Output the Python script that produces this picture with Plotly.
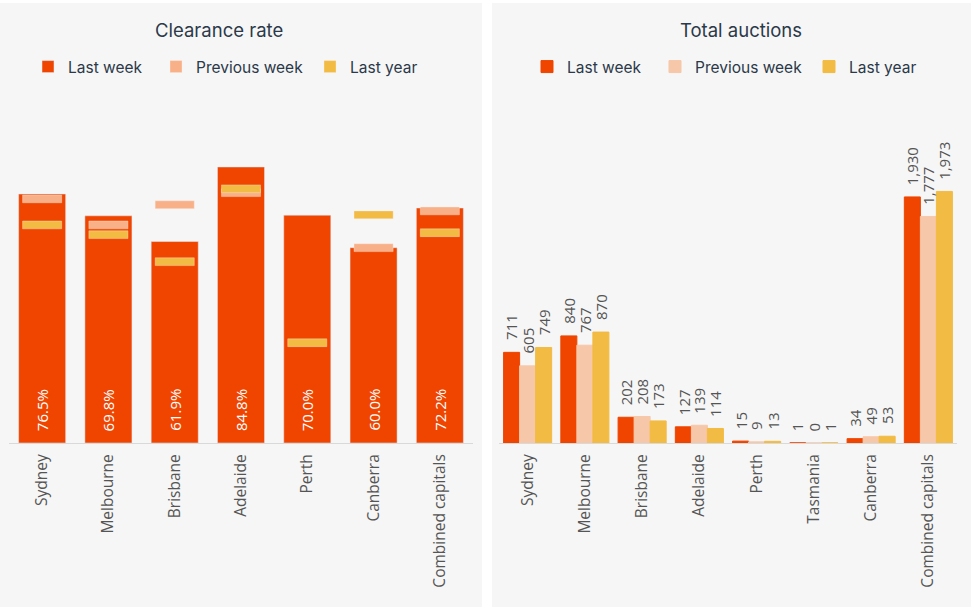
import plotly.graph_objects as go

# ---------------- data ----------------
cr_cities = ["Sydney", "Melbourne", "Brisbane", "Adelaide", "Perth", "Canberra", "Combined capitals"]
cr_last_week = [76.5, 69.8, 61.9, 84.8, 70.0, 60.0, 72.2]
cr_prev_week = [75.0, 67.0, 73.2, 76.9, None, 60.0, 71.3]
cr_last_year = [67.0, 64.0, 55.7, 78.1, 30.8, 70.1, 64.6]

ta_cities = ["Sydney", "Melbourne", "Brisbane", "Adelaide", "Perth", "Tasmania", "Canberra", "Combined capitals"]
ta_last_week = [711, 840, 202, 127, 15, 1, 34, 1930]
ta_prev_week = [605, 767, 208, 139, 9, 0, 49, 1777]
ta_last_year = [749, 870, 173, 114, 13, 1, 53, 1973]

series_names = ["Last week", "Previous week", "Last year"]

# ---------------- style ----------------
W, H = 971, 612
C_LW = "#ef4500"
C_PW = "#f8b088"
C_PW2 = "#f7c7a9"
C_LY = "#f2bb43"
PANEL = "#f6f6f6"
DARK = "#2b3949"
GREY = "#555555"
TFONT = "Inter"
LFONT = "Open Sans"

def px_x(p):
    return p / W

def px_y(p):
    return (H - p) / H

y_dom = [px_y(443), px_y(117.5)]

left_leg_x = [42, 170, 324]
right_leg_x = [541, 669, 823]

fig = go.Figure()

# ---- left: clearance rate ----
fig.add_trace(go.Bar(
    x=cr_cities, y=cr_last_week, name=series_names[0], marker_color=C_LW,
    width=0.71, offset=-0.355, xaxis="x", yaxis="y", legend="legend",
    hoverinfo="x+y"))
mark_h = 2.4
for vals, col, nm, lg in [(cr_prev_week, C_PW, series_names[1], "legend2"),
                          (cr_last_year, C_LY, series_names[2], "legend3")]:
    xs = [c for c, v in zip(cr_cities, vals) if v is not None]
    vs = [v for v in vals if v is not None]
    fig.add_trace(go.Bar(
        x=xs, y=[mark_h] * len(vs), base=[v - mark_h / 2 for v in vs], name=nm,
        marker=dict(color=col, line=dict(color="rgba(255,240,230,0.35)", width=1)),
        width=0.59, offset=-0.295, xaxis="x", yaxis="y", legend=lg,
        customdata=vs, hovertemplate="%{x}: %{customdata}<extra>" + nm + "</extra>"))

annotations = []
for i, v in enumerate(cr_last_week):
    annotations.append(dict(
        x=i, y=0, xref="x", yref="y", text=f"{v:.1f}%", textangle=-90,
        showarrow=False, xanchor="center", yanchor="bottom", yshift=10,
        font=dict(family=LFONT, size=15, color="white")))

# ---- right: total auctions ----
bw = 0.28
offs = [-0.42, -0.14, 0.14]
for vals, col, nm, off, lg in [(ta_last_week, C_LW, series_names[0], offs[0], "legend4"),
                               (ta_prev_week, C_PW2, series_names[1], offs[1], "legend5"),
                               (ta_last_year, C_LY, series_names[2], offs[2], "legend6")]:
    fig.add_trace(go.Bar(
        x=ta_cities, y=vals, name=nm, marker=dict(color=col, line=dict(color=col, width=1)),
        width=bw, offset=off, xaxis="x2", yaxis="y2", legend=lg))
    for i, v in enumerate(vals):
        annotations.append(dict(
            x=i + off + bw / 2, y=v, xref="x2", yref="y2", text=f"{v:,}", textangle=-90,
            showarrow=False, xanchor="center", yanchor="bottom", yshift=10,
            font=dict(family=LFONT, size=15, color=GREY)))

# titles
annotations.append(dict(x=px_x(219), y=px_y(30), xref="paper", yref="paper", text="Clearance rate",
                        showarrow=False, xanchor="center", yanchor="middle",
                        font=dict(family=TFONT, size=18.5, color=DARK)))
annotations.append(dict(x=px_x(741), y=px_y(30), xref="paper", yref="paper", text="Total auctions",
                        showarrow=False, xanchor="center", yanchor="middle",
                        font=dict(family=TFONT, size=18.5, color=DARK)))

shapes = [
    dict(type="rect", xref="paper", yref="paper", x0=0, x1=px_x(482), y0=px_y(607), y1=px_y(3),
         fillcolor=PANEL, line=dict(width=0), layer="below"),
    dict(type="rect", xref="paper", yref="paper", x0=px_x(492), x1=1, y0=px_y(607), y1=px_y(3),
         fillcolor=PANEL, line=dict(width=0), layer="below"),
]

axis_common = dict(showgrid=False, zeroline=False, showline=True, linecolor="#d9d9d9", linewidth=1,
                   tickangle=-90, ticks="", ticklabelstandoff=4,
                   tickfont=dict(family=LFONT, size=15.5, color=GREY),
                   type="category", fixedrange=True)

def legend_at(xpx):
    return dict(orientation="h", bgcolor="rgba(0,0,0,0)", xanchor="left", yanchor="middle",
                x=px_x(xpx - 14), y=px_y(67),
                font=dict(family=TFONT, size=15.5, color=DARK), itemclick=False,
                itemdoubleclick=False)

fig.update_layout(
    width=W, height=H, margin=dict(l=0, r=0, t=0, b=0),
    paper_bgcolor="white", plot_bgcolor="rgba(0,0,0,0)",
    barmode="overlay", showlegend=True,
    xaxis=dict(domain=[px_x(9), px_x(473)], anchor="y", range=[-0.5, 6.5], **axis_common),
    yaxis=dict(domain=y_dom, anchor="x", range=[0, 100], visible=False, fixedrange=True),
    xaxis2=dict(domain=[px_x(499), px_x(957)], anchor="y2", range=[-0.5, 7.5], **axis_common),
    yaxis2=dict(domain=y_dom, anchor="x2", range=[0, 2553], visible=False, fixedrange=True),
    legend=legend_at(left_leg_x[0]),
    legend2=legend_at(left_leg_x[1]),
    legend3=legend_at(left_leg_x[2]),
    legend4=legend_at(right_leg_x[0]),
    legend5=legend_at(right_leg_x[1]),
    legend6=legend_at(right_leg_x[2]),
    annotations=annotations, shapes=shapes,
)

fig.write_html("out.html", config={"displayModeBar": False},
               post_script="document.body.style.margin='0';document.body.style.overflow='hidden';")
